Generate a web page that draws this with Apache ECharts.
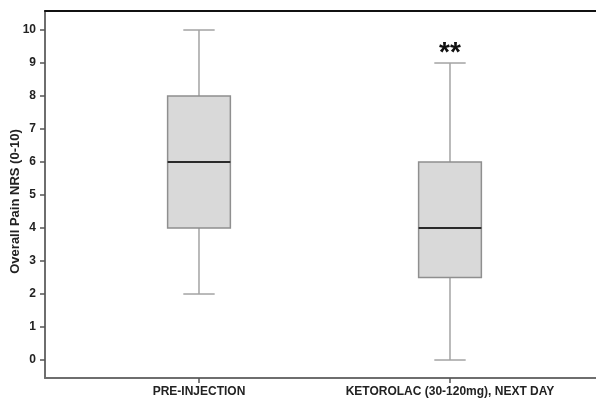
<!DOCTYPE html>
<html>
<head>
<meta charset="utf-8">
<script src="https://cdn.jsdelivr.net/npm/echarts@6/dist/echarts.min.js"></script>
<style>
html,body{margin:0;padding:0;background:#fff;}
#chart{width:596px;height:399px;}
</style>
</head>
<body>
<div id="chart"></div>
<script>
var categories = ['PRE-INJECTION', 'KETOROLAC (30-120mg), NEXT DAY'];
var whiskerLow = [2, 0];
var q1 = [4, 2.5];
var median = [6, 4];
var q3 = [8, 6];
var whiskerHigh = [10, 9];
var annotations = ['', '**'];
var yTicks = [0, 1, 2, 3, 4, 5, 6, 7, 8, 9, 10];
var catPositions = [0, 1];

var data = categories.map(function (c, i) {
  return [i, whiskerLow[i], q1[i], median[i], q3[i], whiskerHigh[i]];
});

var font = '"Liberation Sans", Arial, sans-serif';

function renderItem(params, api) {
  var x = api.value(0);
  var lo = api.coord([x, api.value(1)]);
  var b1 = api.coord([x, api.value(2)]);
  var md = api.coord([x, api.value(3)]);
  var b3 = api.coord([x, api.value(4)]);
  var hi = api.coord([x, api.value(5)]);
  var boxW = api.size([0.25, 0])[0];
  var capW = api.size([0.125, 0])[0];
  var cx = lo[0];
  var lineStyle = { stroke: '#a3a3a3', lineWidth: 1.5 };
  var children = [
    { type: 'line', shape: { x1: cx, y1: hi[1], x2: cx, y2: b3[1] }, style: lineStyle },
    { type: 'line', shape: { x1: cx, y1: b1[1], x2: cx, y2: lo[1] }, style: lineStyle },
    { type: 'line', shape: { x1: cx - capW / 2, y1: hi[1], x2: cx + capW / 2, y2: hi[1] }, style: lineStyle },
    { type: 'line', shape: { x1: cx - capW / 2, y1: lo[1], x2: cx + capW / 2, y2: lo[1] }, style: lineStyle },
    { type: 'rect', shape: { x: cx - boxW / 2, y: b3[1], width: boxW, height: b1[1] - b3[1] },
      style: { fill: '#d9d9d9', stroke: '#8f8f8f', lineWidth: 1.5 } },
    { type: 'line', shape: { x1: cx - boxW / 2, y1: md[1], x2: cx + boxW / 2, y2: md[1] },
      style: { stroke: '#2a2a2a', lineWidth: 2 } }
  ];
  var ann = annotations[params.dataIndex];
  if (ann) {
    children.push({
      type: 'text',
      style: { text: ann, x: cx, y: hi[1] - 10, align: 'center', verticalAlign: 'middle',
        font: 'bold 28px ' + font, fill: '#111' }
    });
  }
  return { type: 'group', children: children };
}

var chart = echarts.init(document.getElementById('chart'));
chart.setOption({
  animation: false,
  backgroundColor: '#fff',
  grid: { left: 45, right: 0, top: 11, bottom: 21, containLabel: false, outerBoundsMode: 'none' },
  xAxis: [{
    type: 'value',
    min: -0.6135,
    max: 1.5817,
    splitLine: { show: false },
    axisLine: { show: true, onZero: false, lineStyle: { color: '#6e6e6e', width: 2 } },
    axisTick: { show: true, length: 5, customValues: catPositions, lineStyle: { color: '#555', width: 1.5 } },
    axisLabel: {
      customValues: catPositions,
      margin: 8,
      formatter: function (v) { return categories[Math.round(v)] || ''; },
      fontFamily: font, fontWeight: 'bold', fontSize: 12, color: '#222'
    }
  }, {
    type: 'value',
    position: 'top',
    min: -0.6135,
    max: 1.5817,
    splitLine: { show: false },
    axisLine: { show: true, onZero: false, lineStyle: { color: '#111', width: 2 } },
    axisTick: { show: false },
    axisLabel: { show: false }
  }],
  yAxis: {
    type: 'value',
    min: -0.545,
    max: 10.576,
    name: 'Overall Pain NRS (0-10)',
    nameLocation: 'middle',
    nameGap: 23,
    nameMoveOverlap: false,
    nameTextStyle: { fontFamily: font, fontWeight: 'bold', fontSize: 13, color: '#222', padding: [0, 14, 0, 0] },
    splitLine: { show: false },
    axisLine: { show: true, onZero: false, lineStyle: { color: '#6e6e6e', width: 2 } },
    axisTick: { show: true, length: 5, customValues: yTicks, lineStyle: { color: '#555', width: 1.5 } },
    axisLabel: {
      customValues: yTicks,
      margin: 9,
      fontFamily: font, fontWeight: 'bold', fontSize: 12, color: '#222'
    }
  },
  series: [{
    type: 'custom',
    renderItem: renderItem,
    data: data,
    encode: { x: 0, y: [1, 2, 3, 4, 5] }
  }]
});
</script>
</body>
</html>
